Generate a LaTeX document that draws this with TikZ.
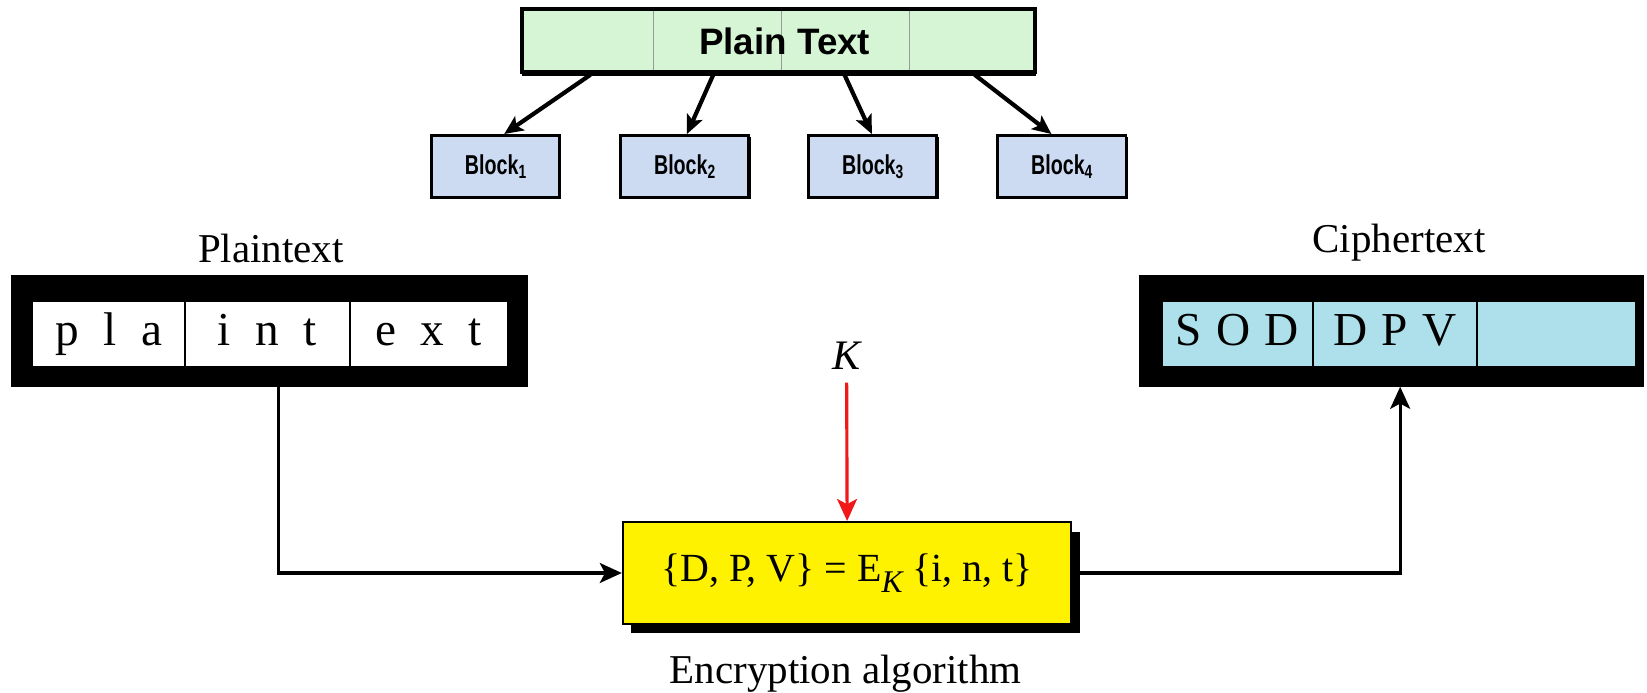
\documentclass[tikz,border=0pt]{standalone}
\usepackage{fontspec}
\usepackage{graphicx}
\setmainfont{Liberation Serif}
\newfontfamily\arialfont{Liberation Sans}
\usetikzlibrary{arrows.meta,shadows}
\definecolor{barGreen}{HTML}{D5F5D5}
\definecolor{blockBlue}{HTML}{CCDAF2}
\definecolor{cipherBlue}{HTML}{ADE0EA}
\definecolor{keyRed}{HTML}{F01818}
\newcommand{\spc}{\hspace{0.52em}}
\tikzset{
  barbox/.style={draw=black, line width=2.5pt, fill=barGreen, minimum width=487pt, minimum height=59pt, inner sep=0pt},
  blockbox/.style={draw=black, line width=2.8pt, fill=blockBlue, minimum width=122pt, minimum height=59pt, inner sep=0pt,
     drop shadow={shadow xshift=1.5pt, shadow yshift=-1.5pt, fill=black, opacity=1},
     font=\arialfont\bfseries\fontsize{26}{26}\selectfont},
  blackbox/.style={fill=black, draw=none, minimum width=493pt, minimum height=106pt, inner sep=0pt},
  cellbox/.style={draw=black, line width=1.5pt, minimum height=62pt, inner sep=0pt,
     text height=31pt, text depth=9pt, font=\fontsize{45}{45}\selectfont},
  plaincell/.style={cellbox, fill=white},
  ciphercell/.style={cellbox, fill=cipherBlue},
  lbl/.style={font=\fontsize{39}{39}\selectfont, inner sep=0pt, anchor=base},
  encbox/.style={draw=black, line width=2pt, fill=yellow, minimum width=427pt, minimum height=97pt, inner sep=0pt,
     drop shadow={shadow xshift=8pt, shadow yshift=-9pt, fill=black, opacity=1},
     font=\fontsize{38}{38}\selectfont},
  blockarrow/.style={line width=4pt, -{Stealth[length=18pt,width=16pt,inset=4pt]}},
  conn/.style={line width=3pt, -{Stealth[length=21pt,width=19pt,inset=5pt]}},
  keyarrow/.style={keyRed, line width=3pt, -{Stealth[length=21pt,width=19pt,inset=5pt]}},
  divider/.style={draw=gray!80, line width=1.5pt}
}
\begin{document}
\begin{tikzpicture}[x=1pt,y=-1pt]
\useasboundingbox (0,0) rectangle (1568,659);

% ---- Plain text bar and blocks ----
\node[barbox] (pbar) at (741.5,38.5) {};
\draw[divider] (622,10.5) -- (622,66.5);
\draw[divider] (744,10.5) -- (744,66.5);
\draw[divider] (866,10.5) -- (866,66.5);
\draw[line width=2.5pt] (pbar.north west) rectangle (pbar.south east);
\draw[line width=2pt] ([yshift=-2pt]pbar.south west) -- ([yshift=-2pt]pbar.south east);
\node[font=\arialfont\bfseries\fontsize{35}{35}\selectfont, anchor=base, inner sep=0pt] (ptitle) at (747,52) {Plain Text};

\node[blockbox] (b1) at (472,158.5) {\scalebox{0.72}[1]{Block\textsubscript{1}}};
\node[blockbox] (b2) at (652,158.5) {\scalebox{0.72}[1]{Block\textsubscript{2}}};
\node[blockbox] (b3) at (831,158.5) {\scalebox{0.72}[1]{Block\textsubscript{3}}};
\node[blockbox] (b4) at (1011,158.5) {\scalebox{0.72}[1]{Block\textsubscript{4}}};

\draw[blockarrow] ([xshift=-179.5pt,yshift=-2pt]pbar.south) -- ([xshift=8pt]b1.north);
\draw[blockarrow] ([xshift=-62.5pt,yshift=-2pt]pbar.south) -- ([xshift=2pt]b2.north);
\draw[blockarrow] ([xshift=62.5pt,yshift=-2pt]pbar.south) -- ([xshift=-1pt]b3.north);
\draw[blockarrow] ([xshift=186.5pt,yshift=-2pt]pbar.south) -- ([xshift=-10pt]b4.north);

% ---- Plaintext box ----
\node[lbl] (plabel) at (258,250) {Plaintext};
\node[blackbox] (ptbox) at (256.5,315) {};
\node[plaincell, minimum width=145pt] (p1) at (103.5,318) {p\spc l\spc a};
\node[plaincell, minimum width=157pt] (p2) at (254.5,318) {i\spc n\spc t};
\node[plaincell, minimum width=150pt] (p3) at (408,318) {e\spc x\spc t};

% ---- Ciphertext box ----
\node[lbl] (clabel) at (1332,240) {Ciphertext};
\node[blackbox, minimum width=481pt] (ctbox) at (1324.5,315) {};
\node[ciphercell, minimum width=144pt] (c1) at (1178,318) {S\hspace{0.3em}O\hspace{0.3em}D};
\node[ciphercell, minimum width=156pt] (c2) at (1328,318) {D\hspace{0.3em}P\hspace{0.3em}V};
\node[ciphercell, minimum width=151pt] (c3) at (1481.5,318) {};

% ---- Encryption ----
\node[lbl, font=\itshape\fontsize{40}{40}\selectfont] (key) at (806,352) {K};
\node[encbox] (enc) at (806.5,545.5) {\{D, P, V\} = E\raisebox{-0.28em}{\fontsize{30}{30}\selectfont\itshape K}\ \{i, n, t\}};
\node[lbl] (elabel) at (805,651) {Encryption algorithm};

\draw[keyarrow, shorten <=12pt] (key.south) -- (enc.north);
\coordinate (pa) at (265,0);
\coordinate (pb) at (1333,0);
\draw[conn] (pa |- ptbox.south) |- (enc.west);
\draw[conn] (enc.east) -| (pb |- ctbox.south);
\end{tikzpicture}
\end{document}
